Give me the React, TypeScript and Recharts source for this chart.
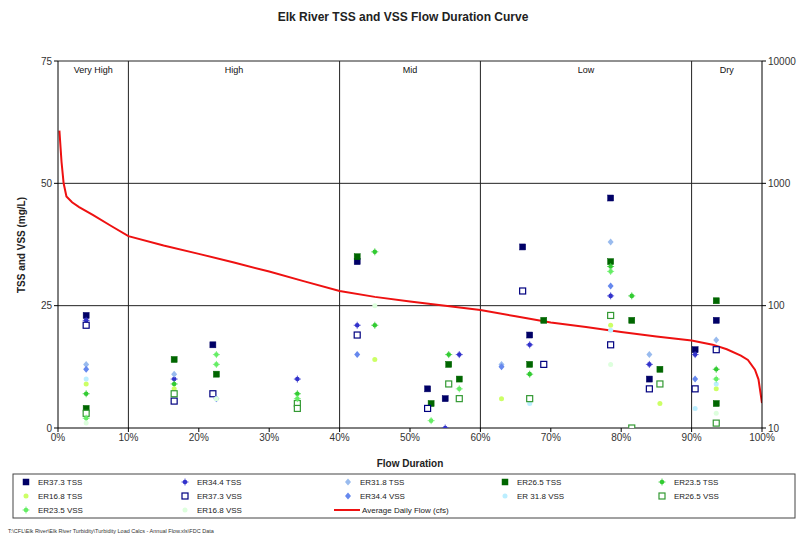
import React from "react";
import {
  ComposedChart,
  Scatter,
  Line,
  XAxis,
  YAxis,
  ReferenceLine,
  ReferenceArea,
} from "recharts";

// flow duration curve (percent exceeded vs. average daily flow, cfs)
const flowPct = [0.2, 0.5, 0.8, 1.2, 2, 3, 5, 7.5, 10, 15, 20, 25, 30, 35, 40, 45, 50, 55, 60, 65, 70, 75, 80, 85, 90, 93, 95, 97, 98, 99, 99.5, 100];
const flowCfs = [2700, 1500, 1000, 780, 700, 640, 550, 450, 370, 310, 265, 225, 190, 158, 132, 118, 108, 100, 92, 82, 73, 67, 61, 56, 52, 48, 44, 39, 36, 30, 25, 16];

// sample points [flow duration %, mg/L]
const er373Tss: [number, number][] = [[4, 23], [22, 17], [42.5, 34], [52.5, 8], [55, 6], [66, 37], [67, 19], [78.5, 47], [84, 10], [90.5, 16], [93.5, 22]];
const er344Tss: [number, number][] = [[4, 22], [16.5, 10], [34, 10], [42.5, 21], [55, 0], [57, 15], [67, 17], [78.5, 27], [84, 13], [90.5, 15]];
const er318Tss: [number, number][] = [[4, 13], [16.5, 11], [63, 13], [78.5, 38], [84, 15], [93.5, 18]];
const er265Tss: [number, number][] = [[4, 4], [16.5, 14], [22.5, 11], [42.5, 35], [53, 5], [55.5, 13], [57, 10], [67, 13], [69, 22], [78.5, 34], [81.5, 22], [85.5, 12], [93.5, 26], [93.5, 5]];
const er235Tss: [number, number][] = [[4, 7], [16.5, 9], [34, 7], [45, 36], [45, 21], [55.5, 15], [67, 11], [78.5, 33], [81.5, 27], [93.5, 12]];
const er168Tss: [number, number][] = [[4, 9], [16.5, 8], [45, 14], [63, 6], [78.5, 21], [85.5, 5], [93.5, 8]];
const er373Vss: [number, number][] = [[4, 21], [16.5, 5.5], [22, 7], [42.5, 19], [52.5, 4], [66, 28], [69, 13], [78.5, 17], [84, 8], [90.5, 8], [93.5, 16]];
const er344Vss: [number, number][] = [[4, 12], [22.5, 6], [42.5, 15], [63, 12.5], [78.5, 29], [90.5, 10]];
const er318Vss: [number, number][] = [[4, 10], [67, 5], [78.5, 20], [90.5, 4], [93.5, 9]];
const er265Vss: [number, number][] = [[4, 3], [16.5, 7], [34, 5], [34, 4], [55.5, 9], [57, 6], [67, 6], [78.5, 23], [81.5, 0], [85.5, 9], [93.5, 1]];
const er235Vss: [number, number][] = [[4, 2], [22.5, 15], [22.5, 13], [34, 6], [53, 1.5], [57, 8], [78.5, 32], [93.5, 10]];
const er168Vss: [number, number][] = [[4, 1], [22.5, 6], [45, 25], [78.5, 13], [93.5, 3]];

const zones = [
  { name: "Very High", from: 0, to: 10 },
  { name: "High", from: 10, to: 40 },
  { name: "Mid", from: 40, to: 60 },
  { name: "Low", from: 60, to: 90 },
  { name: "Dry", from: 90, to: 100 },
];

const xTicks = [0, 10, 20, 30, 40, 50, 60, 70, 80, 90, 100];

type Kind = "square" | "open" | "diamond" | "star" | "dot";

const series: { name: string; pts: [number, number][]; color: string; kind: Kind }[] = [
  { name: "ER37.3 TSS", pts: er373Tss, color: "#000066", kind: "square" },
  { name: "ER34.4 TSS", pts: er344Tss, color: "#3333cc", kind: "star" },
  { name: "ER31.8 TSS", pts: er318Tss, color: "#99bbee", kind: "diamond" },
  { name: "ER26.5 TSS", pts: er265Tss, color: "#006600", kind: "square" },
  { name: "ER23.5 TSS", pts: er235Tss, color: "#33cc33", kind: "star" },
  { name: "ER16.8 TSS", pts: er168Tss, color: "#ccff66", kind: "dot" },
  { name: "ER37.3 VSS", pts: er373Vss, color: "#000080", kind: "open" },
  { name: "ER34.4 VSS", pts: er344Vss, color: "#6688ee", kind: "diamond" },
  { name: "ER 31.8 VSS", pts: er318Vss, color: "#bbeeff", kind: "dot" },
  { name: "ER26.5 VSS", pts: er265Vss, color: "#339933", kind: "open" },
  { name: "ER23.5 VSS", pts: er235Vss, color: "#66ee66", kind: "star" },
  { name: "ER16.8 VSS", pts: er168Vss, color: "#ddffdd", kind: "dot" },
];

const flowData = flowPct.map((x, i) => ({ x, cfs: flowCfs[i] }));
const font = "'Liberation Sans', Arial, sans-serif";

const marker = (kind: Kind, color: string, cx: number, cy: number, key?: string) => {
  if (kind === "square") return <rect key={key} x={cx - 3} y={cy - 3} width={6} height={6} fill={color} stroke={color} strokeWidth={0.5} />;
  if (kind === "open") return <rect key={key} x={cx - 3} y={cy - 3} width={6} height={6} fill="#fff" stroke={color} strokeWidth={1.2} />;
  if (kind === "diamond") return <path key={key} d={`M${cx},${cy - 3.5}L${cx + 3},${cy}L${cx},${cy + 3.5}L${cx - 3},${cy}Z`} fill={color} />;
  if (kind === "star")
    return (
      <g key={key}>
        <circle cx={cx} cy={cy} r={2.3} fill={color} />
        <path d={`M${cx - 3.5},${cy}H${cx + 3.5}M${cx},${cy - 3.5}V${cy + 3.5}`} stroke={color} strokeWidth={0.8} />
      </g>
    );
  return <circle key={key} cx={cx} cy={cy} r={2.5} fill={color} />;
};

const legendCols = [26, 185, 348, 505, 662];
const legendRows = [482, 496, 510];

export default function App() {
  const tick = { fontSize: 10, fill: "#333", fontFamily: font };
  return (
    <div style={{ position: "absolute", left: 0, top: 0, width: 804, height: 541, background: "#fff" }}>
      <ComposedChart width={804} height={470} margin={{ top: 61, right: 0, left: 0, bottom: 12 }}>
        <XAxis
          type="number"
          dataKey="x"
          domain={[0, 100]}
          ticks={xTicks}
          tickFormatter={(v) => `${v}%`}
          height={30}
          tick={tick}
          tickSize={4}
          stroke="#000"
          allowDataOverflow
        />
        <YAxis
          yAxisId="left"
          dataKey="y"
          type="number"
          domain={[0, 75]}
          ticks={[0, 25, 50, 75]}
          width={58}
          tick={tick}
          tickSize={4}
          stroke="#000"
          allowDataOverflow
        />
        <YAxis
          yAxisId="right"
          orientation="right"
          type="number"
          scale="log"
          domain={[10, 10000]}
          ticks={[10, 100, 1000, 10000]}
          width={42}
          tick={tick}
          tickSize={4}
          stroke="#000"
          allowDataOverflow
        />
        {[25, 50, 75].map((v) => (
          <ReferenceLine key={v} yAxisId="left" y={v} stroke="#222" />
        ))}
        {zones.map((z) => (
          <ReferenceArea
            key={z.name}
            yAxisId="left"
            x1={z.from}
            x2={z.to}
            y1={0}
            y2={75}
            fill="none"
            fillOpacity={0}
            stroke="none"
            label={{ value: z.name, position: "insideTop", offset: 6, fontSize: 9, fill: "#111", fontFamily: font }}
          />
        ))}
        {[10, 40, 60, 90].map((v) => (
          <ReferenceLine key={v} yAxisId="left" x={v} stroke="#222" />
        ))}
        {series.map((s) => (
          <Scatter
            key={s.name}
            name={s.name}
            yAxisId="left"
            dataKey="y"
            data={s.pts.map(([x, y]) => ({ x, y }))}
            isAnimationActive={false}
            shape={(p: any) => marker(s.kind, s.color, p.cx, p.cy)}
          />
        ))}
        <Line
          yAxisId="right"
          data={flowData}
          dataKey="cfs"
          type="linear"
          stroke="#ee1111"
          strokeWidth={2}
          dot={false}
          isAnimationActive={false}
        />
      </ComposedChart>
      <svg width={804} height={541} style={{ position: "absolute", left: 0, top: 0, pointerEvents: "none" }} fontFamily={font}>
        <text x={403} y={21} textAnchor="middle" fontSize={12} fontWeight="bold" fill="#222">
          Elk River TSS and VSS Flow Duration Curve
        </text>
        <text x={0} y={0} transform="translate(25,245) rotate(-90)" textAnchor="middle" fontSize={10} fontWeight="bold" fill="#222">
          TSS and VSS (mg/L)
        </text>
        <text x={410} y={467} textAnchor="middle" fontSize={10} fontWeight="bold" fill="#222">
          Flow Duration
        </text>
        <rect x={13} y={474} width={782} height={44} fill="#fff" stroke="#444" strokeWidth={1} />
        {series.map((s, i) => {
          const cx = legendCols[i % 5];
          const cy = legendRows[Math.floor(i / 5)];
          return (
            <g key={s.name}>
              {marker(s.kind, s.color, cx, cy)}
              <text x={cx + 12} y={cy + 3} fontSize={8} fill="#222">
                {s.name}
              </text>
            </g>
          );
        })}
        <line x1={legendCols[2] - 14} x2={legendCols[2] + 12} y1={legendRows[2]} y2={legendRows[2]} stroke="#ee1111" strokeWidth={2} />
        <text x={legendCols[2] + 14} y={legendRows[2] + 3} fontSize={8} fill="#222">
          Average Daily Flow (cfs)
        </text>
        <text x={8} y={533} fontSize={5.5} fill="#333">
          T:\CFL\Elk River\Elk River Turbidity\Turbidity Load Calcs - Annual Flow.xls\FDC Data
        </text>
      </svg>
    </div>
  );
}
